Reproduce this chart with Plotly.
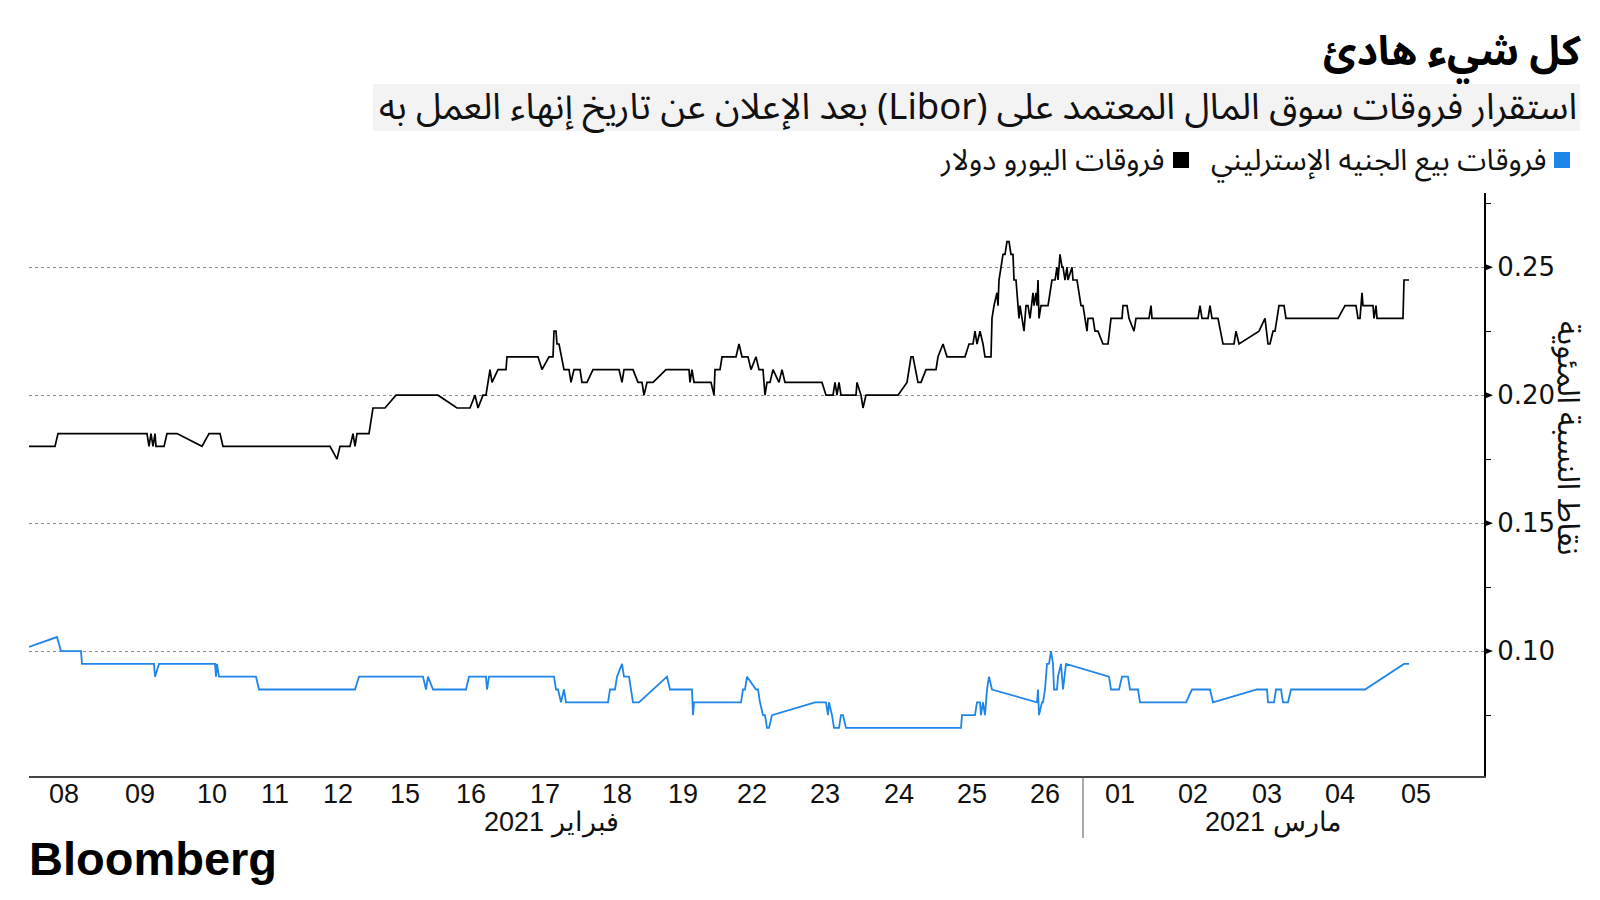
import plotly.graph_objects as go

# ---------------- text ----------------
title_text = "كل شيء هادئ"
subtitle_text = "استقرار فروقات سوق المال المعتمد على (Libor) بعد الإعلان عن تاريخ إنهاء العمل به"
gbp_name = "فروقات بيع الجنيه الإسترليني"
eur_name = "فروقات اليورو دولار"
y_title = "نقاط النسبة المئوية"
source_text = "Bloomberg"

# ---------------- x axis (session position index) ----------------
tick_pos = [64, 140, 212, 275, 338, 405, 471, 545, 617, 683, 752, 825, 899, 972, 1045,
            1120, 1193, 1267, 1340, 1416]
tick_text = ["08", "09", "10", "11", "12", "15", "16", "17", "18", "19", "22", "23", "24", "25", "26",
             "01", "02", "03", "04", "05"]
month_labels = ["فبراير 2021", "مارس 2021"]
month_pos = [551, 1273]
month_split = 1083
x_range = [29, 1484]

# ---------------- y axis ----------------
y_range = [0.0512, 0.279]
y_major = [0.10, 0.15, 0.20, 0.25]
y_minor = [0.075, 0.125, 0.175, 0.225, 0.275]

# ---------------- Euro-dollar spread (black) ----------------
eur_x = [29, 55, 58, 147, 149, 151, 153, 155, 156, 164, 167, 177, 202, 209, 220, 223, 330, 337, 340, 350,
         353, 355, 357, 369, 373, 385, 396, 438, 457, 470, 475, 478, 483, 486, 490, 492, 498, 506, 507, 538,
         542, 549, 553, 554, 556, 557, 559, 564, 569, 571, 574, 580, 582, 587, 593, 619, 622, 624, 633, 638,
         642, 644, 647, 653, 666, 689, 690, 692, 694, 711, 714, 715, 720, 722, 736, 739, 742, 748, 751, 756,
         759, 763, 765, 767, 770, 773, 779, 782, 785, 822, 826, 833, 835, 837, 839, 841, 856, 857, 861, 863,
         866, 898, 907, 911, 913, 918, 921, 926, 936, 938, 943, 947, 965, 969, 973, 975, 977, 980, 983, 985,
         991, 992, 994, 997, 998, 999, 1003, 1005, 1007, 1009, 1011, 1013, 1014, 1016, 1018, 1019, 1020, 1024, 1026, 1028,
         1030, 1033, 1034, 1036, 1037, 1038, 1039, 1041, 1048, 1052, 1055, 1057, 1058, 1060, 1062, 1063, 1065, 1067, 1068, 1072,
         1073, 1077, 1079, 1081, 1083, 1085, 1087, 1088, 1093, 1095, 1098, 1103, 1108, 1111, 1122, 1123, 1127, 1129, 1134, 1136,
         1149, 1151, 1152, 1198, 1200, 1202, 1208, 1210, 1212, 1218, 1223, 1234, 1236, 1239, 1259, 1265, 1268, 1270, 1273, 1275,
         1277, 1279, 1284, 1286, 1338, 1345, 1356, 1358, 1360, 1362, 1363, 1373, 1374, 1376, 1377, 1403, 1404, 1409]
eur_y = [0.18, 0.18, 0.185, 0.185, 0.18, 0.185, 0.18, 0.185, 0.18, 0.18, 0.185, 0.185, 0.18, 0.185, 0.185, 0.18, 0.18, 0.175, 0.18, 0.18,
         0.185, 0.18, 0.185, 0.185, 0.195, 0.195, 0.20, 0.20, 0.195, 0.195, 0.20, 0.195, 0.20, 0.20, 0.21, 0.205, 0.21, 0.21, 0.215, 0.215,
         0.21, 0.215, 0.215, 0.225, 0.225, 0.22, 0.22, 0.21, 0.21, 0.205, 0.21, 0.21, 0.205, 0.205, 0.21, 0.21, 0.205, 0.21, 0.21, 0.205,
         0.205, 0.20, 0.205, 0.205, 0.21, 0.21, 0.205, 0.21, 0.205, 0.205, 0.20, 0.21, 0.21, 0.215, 0.215, 0.22, 0.215, 0.215, 0.21, 0.215,
         0.21, 0.21, 0.20, 0.205, 0.205, 0.21, 0.205, 0.21, 0.205, 0.205, 0.20, 0.20, 0.205, 0.20, 0.205, 0.20, 0.20, 0.205, 0.20, 0.195,
         0.20, 0.20, 0.205, 0.215, 0.215, 0.205, 0.205, 0.21, 0.21, 0.215, 0.22, 0.215, 0.215, 0.22, 0.22, 0.225, 0.22, 0.225, 0.22, 0.215,
         0.215, 0.23, 0.235, 0.24, 0.235, 0.245, 0.255, 0.255, 0.26, 0.26, 0.255, 0.255, 0.245, 0.245, 0.235, 0.23, 0.235, 0.225, 0.235, 0.235,
         0.23, 0.24, 0.235, 0.24, 0.235, 0.245, 0.23, 0.235, 0.235, 0.245, 0.245, 0.25, 0.245, 0.255, 0.25, 0.25, 0.245, 0.25, 0.245, 0.25,
         0.245, 0.245, 0.24, 0.235, 0.235, 0.23, 0.225, 0.23, 0.23, 0.225, 0.225, 0.22, 0.22, 0.23, 0.23, 0.235, 0.235, 0.23, 0.225, 0.23,
         0.23, 0.235, 0.23, 0.23, 0.235, 0.23, 0.23, 0.235, 0.23, 0.23, 0.22, 0.22, 0.225, 0.22, 0.225, 0.23, 0.22, 0.22, 0.225, 0.225,
         0.23, 0.235, 0.235, 0.23, 0.23, 0.235, 0.235, 0.23, 0.23, 0.24, 0.235, 0.235, 0.23, 0.235, 0.23, 0.23, 0.245, 0.245]

# ---------------- Sterling spread (blue) ----------------
gbp_x = [29, 57, 61, 81, 82, 154, 155, 159, 215, 216, 217, 219, 256, 259, 355, 359, 423, 426, 428, 433,
         466, 469, 486, 487, 489, 554, 556, 558, 561, 564, 566, 608, 610, 615, 617, 622, 624, 629, 631, 633,
         639, 667, 670, 692, 693, 694, 741, 743, 745, 747, 756, 758, 760, 763, 765, 767, 769, 772, 815, 826,
         828, 829, 832, 834, 839, 841, 843, 846, 961, 962, 975, 977, 980, 981, 983, 985, 987, 989, 992, 1037,
         1038, 1039, 1042, 1043, 1045, 1047, 1049, 1051, 1053, 1054, 1057, 1058, 1061, 1063, 1066, 1109, 1111, 1119, 1122, 1128,
         1130, 1138, 1140, 1186, 1192, 1210, 1213, 1257, 1267, 1268, 1274, 1276, 1281, 1283, 1288, 1291, 1365, 1404, 1409]
gbp_y = [0.1016, 0.1055, 0.10, 0.10, 0.095, 0.095, 0.09, 0.095, 0.095, 0.09, 0.095, 0.09, 0.09, 0.085, 0.085, 0.09, 0.09, 0.085, 0.09, 0.085,
         0.085, 0.09, 0.09, 0.085, 0.09, 0.09, 0.085, 0.085, 0.08, 0.085, 0.08, 0.08, 0.085, 0.085, 0.09, 0.095, 0.09, 0.09, 0.085, 0.08,
         0.08, 0.09, 0.085, 0.085, 0.075, 0.08, 0.08, 0.085, 0.085, 0.09, 0.085, 0.085, 0.08, 0.075, 0.075, 0.07, 0.07, 0.075, 0.08, 0.08,
         0.075, 0.08, 0.075, 0.07, 0.07, 0.075, 0.075, 0.07, 0.07, 0.075, 0.075, 0.08, 0.08, 0.075, 0.08, 0.075, 0.085, 0.09, 0.085, 0.08,
         0.085, 0.075, 0.08, 0.08, 0.085, 0.095, 0.095, 0.10, 0.095, 0.085, 0.085, 0.09, 0.095, 0.085, 0.095, 0.09, 0.085, 0.085, 0.09, 0.09,
         0.085, 0.085, 0.08, 0.08, 0.085, 0.085, 0.08, 0.085, 0.085, 0.08, 0.08, 0.085, 0.085, 0.08, 0.08, 0.085, 0.085, 0.095, 0.095]

BLUE = "#1f86e8"
BLACK = "#000000"
AR_FONT = "Noto Sans Arabic, DejaVu Sans, sans-serif"
NUM_FONT = "Liberation Sans, Arial, sans-serif"

M_L, M_R, M_T, M_B = 21, 124, 185, 132
PW = 1600 - M_L - M_R
PH = 900 - M_T - M_B


def px_x(px):  # figure pixel -> paper x
    return (px - M_L) / PW


def px_y(py):  # figure pixel -> paper y
    return (900 - M_B - py) / PH


fig = go.Figure()
fig.add_trace(go.Scatter(x=gbp_x, y=gbp_y, mode="lines", name=gbp_name,
                         line=dict(color=BLUE, width=1.8), showlegend=False))
fig.add_trace(go.Scatter(x=eur_x, y=eur_y, mode="lines", name=eur_name,
                         line=dict(color=BLACK, width=1.7), showlegend=False))

fig.update_layout(
    width=1600, height=900,
    margin=dict(l=M_L, r=M_R, t=M_T, b=M_B),
    paper_bgcolor="white", plot_bgcolor="white",
    showlegend=False,
    xaxis=dict(range=x_range, tickmode="array", tickvals=tick_pos, ticktext=tick_text,
               showgrid=False, zeroline=False, showline=True, linecolor="#444", linewidth=1.5,
               ticks="", ticklabelstandoff=-7,
               tickfont=dict(family=NUM_FONT, size=27, color="#111")),
    yaxis=dict(range=y_range, side="right", tickmode="array", tickvals=y_major,
               ticktext=["%.2f" % v for v in y_major],
               showgrid=True, gridcolor="#8a8a8a", gridwidth=1, griddash="dot",
               zeroline=False, showline=True, linecolor="#000", linewidth=2,
               ticks="outside", ticklen=6, tickcolor="rgba(0,0,0,0)",
               tickfont=dict(family="DejaVu Sans, sans-serif", size=26, color="#111"),
               minor=dict(tickmode="array", tickvals=y_minor, ticks="outside", ticklen=5,
                          tickcolor="#000", tickwidth=1, showgrid=False)),
)

shapes = []
# triangle tick marks on the right axis
for v in y_major:
    shapes.append(dict(type="path", xref="paper", yref="y",
                       path=f"M 1.0007,{v - 0.00125} L {1 + 9 / PW},{v} L 1.0007,{v + 0.00125} Z",
                       fillcolor="#000", line=dict(width=0)))
# subtitle background
shapes.append(dict(type="rect", xref="paper", yref="paper", x0=px_x(365), x1=px_x(1572),
                   y0=px_y(123), y1=px_y(76), fillcolor="#f3f3f3", line=dict(width=0), layer="below"))
# legend squares
shapes.append(dict(type="rect", xref="paper", yref="paper", x0=px_x(1546), x1=px_x(1562),
                   y0=px_y(160), y1=px_y(144), fillcolor=BLUE, line=dict(width=0)))
shapes.append(dict(type="rect", xref="paper", yref="paper", x0=px_x(1165), x1=px_x(1181),
                   y0=px_y(160), y1=px_y(144), fillcolor=BLACK, line=dict(width=0)))
# month separator
shapes.append(dict(type="line", xref="x", yref="paper", x0=month_split, x1=month_split,
                   y0=0, y1=px_y(830), line=dict(color="#555", width=1)))
fig.update_layout(shapes=shapes)

ann = []
ann.append(dict(text="<b>" + title_text + "</b>", xref="paper", yref="paper", x=px_x(1575), y=px_y(44),
                xanchor="right", yanchor="middle", showarrow=False,
                font=dict(family=AR_FONT, size=41, color="#000")))
ann.append(dict(text="\u202b" + subtitle_text + "\u202c", xref="paper", yref="paper", x=px_x(1571), y=px_y(99),
                xanchor="right", yanchor="middle", showarrow=False,
                font=dict(family=AR_FONT, size=36.5, color="#111")))
ann.append(dict(text=gbp_name, xref="paper", yref="paper", x=px_x(1540), y=px_y(152),
                xanchor="right", yanchor="middle", showarrow=False,
                font=dict(family=AR_FONT, size=29.5, color="#111")))
ann.append(dict(text=eur_name, xref="paper", yref="paper", x=px_x(1158), y=px_y(152),
                xanchor="right", yanchor="middle", showarrow=False,
                font=dict(family=AR_FONT, size=29.5, color="#111")))
ann.append(dict(text=y_title, xref="paper", yref="paper", x=px_x(1560), y=px_y(430),
                xanchor="center", yanchor="middle", textangle=90, showarrow=False,
                font=dict(family=AR_FONT, size=31, color="#111")))
for lbl, pos in zip(month_labels, month_pos):
    ann.append(dict(text=lbl, xref="x", yref="paper", x=pos, y=px_y(814),
                    xanchor="center", yanchor="middle", showarrow=False,
                    font=dict(family=NUM_FONT, size=27, color="#111")))
ann.append(dict(text="<b>" + source_text + "</b>", xref="paper", yref="paper", x=px_x(19), y=px_y(850),
                xanchor="left", yanchor="middle", showarrow=False,
                font=dict(family="Liberation Sans, Arial, sans-serif", size=47, color="#000")))
fig.update_layout(annotations=ann)

fig.write_html("out.html")
